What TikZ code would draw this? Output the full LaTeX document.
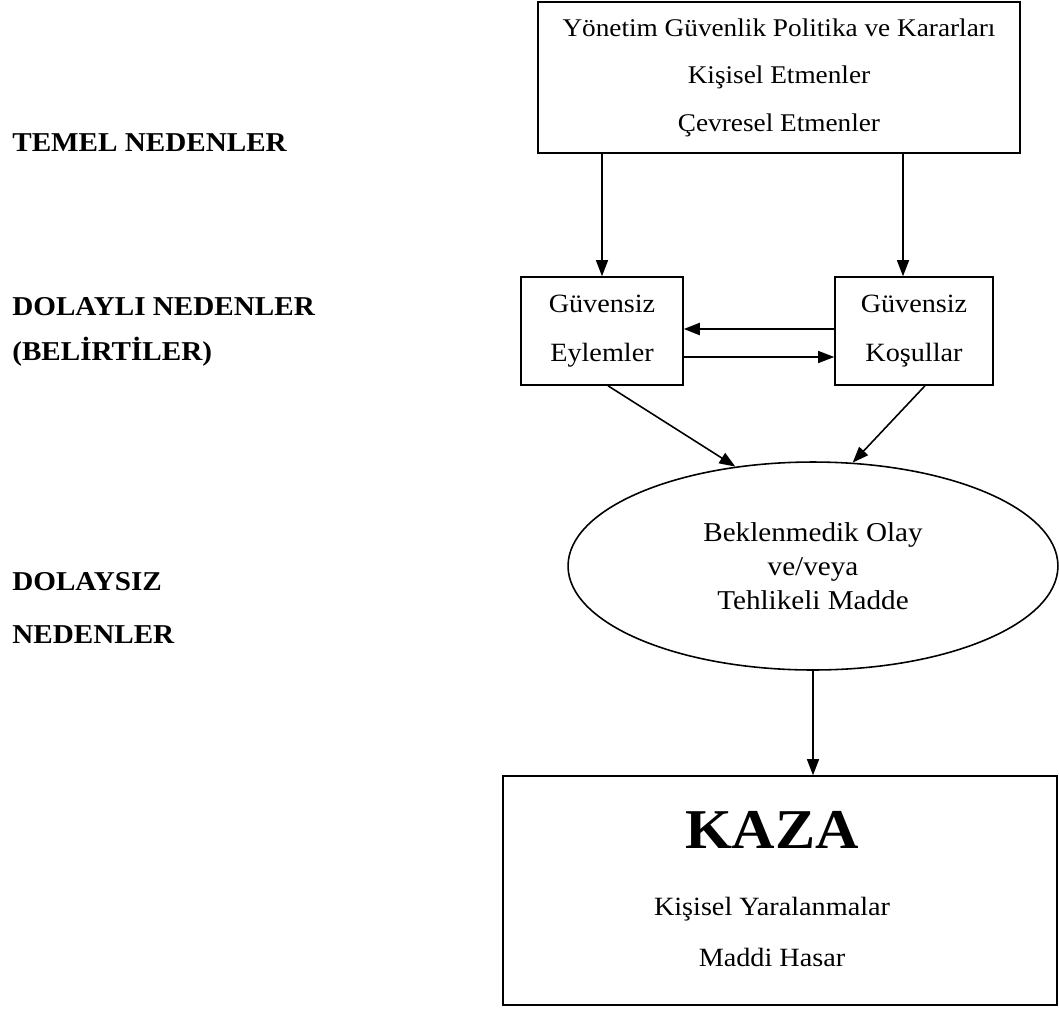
\documentclass[tikz,border=0pt]{standalone}
\usepackage{fontspec}
\setmainfont{Liberation Serif}[FakeStretch=1.07]
\usetikzlibrary{arrows.meta,shapes.geometric}

\begin{document}
\begin{tikzpicture}[x=0.02cm, y=-0.02cm,
    box/.style={draw, line width=0.9pt, align=center, inner sep=0pt},
    level/.style={anchor=west, align=left, inner sep=0pt},
    arr/.style={-{Triangle[length=3.2mm,width=2.4mm]}, line width=0.75pt}]
  \useasboundingbox (0,0) rectangle (1059,1012);

  % levels on the left
  \node[level, font=\fontsize{15.5}{26}\selectfont\bfseries] (temel) at (12,143) {TEMEL NEDENLER};
  \node[level, font=\fontsize{15.5}{25.6}\selectfont\bfseries] (dolayli) at (12,332) {DOLAYLI NEDENLER\\(BELİRTİLER)};
  \node[level, font=\fontsize{15.5}{29.6}\selectfont\bfseries] (dolaysiz) at (12,608) {DOLAYSIZ\\NEDENLER};

  % boxes
  \node[box, minimum width=96.4mm, minimum height=30.2mm, font=\fontsize{14.5}{27}\selectfont] (mgmt) at (779,77.5)
    {Yönetim Güvenlik Politika ve Kararları\\Kişisel Etmenler\\Çevresel Etmenler};
  \node[box, minimum width=32.4mm, minimum height=21.6mm, font=\fontsize{15}{28}\selectfont] (acts) at (602,331)
    {Güvensiz\\Eylemler};
  \node[box, minimum width=31.6mm, minimum height=21.6mm, font=\fontsize{15}{28}\selectfont] (cond) at (914,331)
    {Güvensiz\\Koşullar};
  \node[draw, ellipse, line width=0.9pt, minimum width=98mm, minimum height=41.6mm, inner sep=0pt, align=center,
    font=\fontsize{15.5}{19.4}\selectfont] (event) at (813,566)
    {Beklenmedik Olay\\ve/veya\\Tehlikeli Madde};
  \node[draw, line width=0.9pt, minimum width=110.8mm, minimum height=45.8mm] (kaza) at (780,890.5) {};
  \node[font=\fontsize{32}{36}\selectfont\bfseries] (kazatitle) at (772,830) {KAZA};
  \node[align=center, font=\fontsize{15}{29}\selectfont] (kazasub) at (772,932) {Kişisel Yaralanmalar\\Maddi Hasar};

  % arrows
  \draw[arr] (acts.north |- mgmt.south) -- (acts.north);
  \draw[arr] ([xshift=-2.2mm]cond.north |- mgmt.south) -- ([xshift=-2.2mm]cond.north);
  \draw[arr, line width=1.2pt] ([yshift=0.4mm]cond.west) -- ([yshift=0.4mm]acts.east);
  \draw[arr] ([yshift=-5.2mm]acts.east) -- ([yshift=-5.2mm]cond.west);
  \draw[arr, line width=0.9pt] ([xshift=1.2mm]acts.south) -- (event.128);
  \draw[arr, line width=0.9pt] ([xshift=2.2mm]cond.south) -- (event.69);
  \draw[arr] (event.south) -- (event.south |- kaza.north);
\end{tikzpicture}
\end{document}
